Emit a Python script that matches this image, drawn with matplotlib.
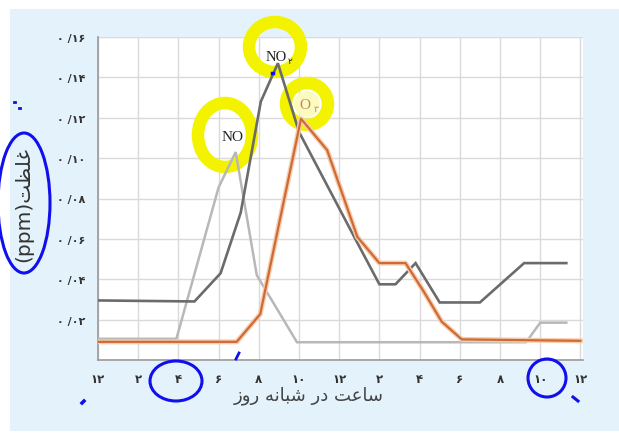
import matplotlib
matplotlib.use("Agg")
import matplotlib.pyplot as plt
from matplotlib.patches import Ellipse, Rectangle

# ---------------- data ----------------
hours_no2 = [0, 4.8, 6.1, 7.1, 8.1, 8.95, 10.0, 12.8, 14.0, 14.8, 15.8, 17.0, 19.0, 21.2, 23.3]
no2 = [0.0295, 0.029, 0.043, 0.073, 0.128, 0.147, 0.113, 0.060, 0.0375, 0.0375, 0.048, 0.0285, 0.0285, 0.048, 0.048]

hours_no = [0, 3.9, 6.0, 6.85, 7.9, 9.9, 21.3, 22.0, 23.3]
no = [0.0105, 0.0105, 0.0855, 0.103, 0.042, 0.0088, 0.0088, 0.0185, 0.0185]

hours_o3 = [0, 6.9, 8.07, 10.1, 11.4, 12.9, 14.0, 15.3, 16.2, 17.1, 18.1, 24.0]
o3 = [0.009, 0.009, 0.0227, 0.1195, 0.104, 0.061, 0.048, 0.048, 0.034, 0.019, 0.0102, 0.0095]

x_ticks = [0, 2, 4, 6, 8, 10, 12, 14, 16, 18, 20, 22, 24]
x_labels = ["۱۲", "۲", "۴", "۶", "۸", "۱۰", "۱۲", "۲", "۴", "۶", "۸", "۱۰", "۱۲"]
y_ticks = [0.02, 0.04, 0.06, 0.08, 0.10, 0.12, 0.14, 0.16]
y_labels = ["۰ /۰۲", "۰ /۰۴", "۰ /۰۶", "۰ /۰۸", "۰ /۱۰", "۰ /۱۲", "۰ /۱۴", "۰ /۱۶"]

# visually ordered, pre-shaped Persian strings
x_title = "\uFEAF\uFEED\uFEAD \uFEEA\uFEE7\uFE8E\uFE92\uFEB7 \uFEAD\uFEA9 \uFE96\uFECB\uFE8E\uFEB3"  # ساعت در شبانه روز
y_title = "(ppm)\uFE96\uFEC8\uFEE0\uFECF"  # غلظت(ppm)

W, H = 619, 439
fig = plt.figure(figsize=(W / 100, H / 100), dpi=100)
fig.patch.set_facecolor("white")


def px(x, y):
    return (x / W, 1 - y / H)


# light blue panel
fig.patches.append(Rectangle(px(10, 432), (W - 10) / W, 422 / H, transform=fig.transFigure,
                             facecolor="#e4f2fb", edgecolor="none", zorder=-5))

L, R, T, B = 98, 583, 38, 361
ax = fig.add_axes([L / W, 1 - B / H, (R - L) / W, (B - T) / H])
ax.set_zorder(1)
ax.set_facecolor("white")
ax.set_xlim(0, 24.13)
ax.set_ylim(0, 0.16)

ax.set_xticks(x_ticks)
ax.set_xticklabels(x_labels, family=["DejaVu Sans"], fontsize=8.5, color="#333333", fontweight="bold")
ax.set_yticks(y_ticks)
ax.set_yticklabels(y_labels, family=["DejaVu Sans"], fontsize=8, color="#333333", fontweight="bold")
ax.tick_params(length=0, pad=9)
ax.tick_params(axis="x", pad=9)
ax.grid(True, color="#dadada", linewidth=1.0, zorder=0)
ax.set_axisbelow(True)
for s in ["top", "right"]:
    ax.spines[s].set_visible(False)
for s in ["left", "bottom"]:
    ax.spines[s].set_color("#9a9a9a")
    ax.spines[s].set_linewidth(1.2)

# lines
ax.plot(hours_no, no, color="#b8b8b8", linewidth=1.8, zorder=3, solid_joinstyle="miter")
ax.plot(hours_no2, no2, color="#6b6b6b", linewidth=1.9, zorder=4, solid_joinstyle="miter")
ax.plot(hours_o3, o3, color="#f5cdb0", linewidth=3.6, zorder=4.5)
ax.plot(hours_o3, o3, color="#d06a34", linewidth=1.6, zorder=5)

# yellow highlighter rings
yellow = "#f3f300"
for cx, cy, w, h in [(225, 136, 54, 64), (275, 48, 52, 50), (307, 105, 42, 42)]:
    ax.add_patch(Ellipse(px(cx, cy), w / W, h / H, transform=fig.transFigure, facecolor="none",
                         edgecolor=yellow, linewidth=9, clip_on=False, zorder=2))
ax.add_patch(Ellipse(px(307, 105), 26 / W, 26 / H, transform=fig.transFigure, facecolor="#fbfbc0",
                     edgecolor="none", clip_on=False, zorder=1.9))

# labels
serif = ["Liberation Serif", "DejaVu Sans"]
ax.text(6.7, 0.1105, "NO", family=serif, fontsize=11, color="#222222", ha="center", va="center", zorder=10)
ax.text(8.85, 0.1505, "NO", family=serif, fontsize=10.5, color="#222222", ha="center", va="center", zorder=10)
ax.text(9.55, 0.1485, "۲", family=["DejaVu Sans"], fontsize=6.5, color="#222222", ha="center", va="center", zorder=10)
ax.text(10.3, 0.1265, "O", family=serif, fontsize=11, color="#c8825a", ha="center", va="center", zorder=10)
ax.text(10.85, 0.1245, "۳", family=["DejaVu Sans"], fontsize=6.5, color="#c8825a", ha="center", va="center", zorder=10)

# axis titles
fig.text(*px(309, 396), x_title, family=["DejaVu Sans"], fontsize=13, color="#444444", ha="center", va="center")
fig.text(*px(24, 204), y_title, family=["DejaVu Sans"], fontsize=14.5, color="#333333", ha="center", va="center",
         rotation=90)

# blue hand-drawn marks
blue = "#1010ee"
for cx, cy, w, h in [(24, 204, 52, 140), (176, 382, 52, 40), (547, 379, 38, 38)]:
    fig.patches.append(Ellipse(px(cx, cy), w / W, h / H, transform=fig.transFigure, facecolor="none",
                               edgecolor=blue, linewidth=2.2, zorder=20))
fig.add_artist(plt.Line2D([236 / W, 239 / W], [1 - 360 / H, 1 - 354 / H], color=blue, linewidth=2, zorder=20))
fig.add_artist(plt.Line2D([82 / W, 84 / W], [1 - 404 / H, 1 - 402 / H], color=blue, linewidth=2.5, zorder=20))
fig.add_artist(plt.Line2D([573 / W, 578 / W], [1 - 398 / H, 1 - 402 / H], color=blue, linewidth=2.2, zorder=20))
fig.add_artist(plt.Line2D([14 / W, 15 / W], [1 - 103 / H, 1 - 103 / H], color=blue, linewidth=2, zorder=20))
fig.add_artist(plt.Line2D([19 / W, 20 / W], [1 - 109 / H, 1 - 109 / H], color=blue, linewidth=2, zorder=20))
fig.add_artist(plt.Line2D([272 / W, 273 / W], [1 - 74 / H, 1 - 74 / H], color=blue, linewidth=2.5, zorder=20))

fig.savefig("out.png", dpi=100, facecolor="white")
